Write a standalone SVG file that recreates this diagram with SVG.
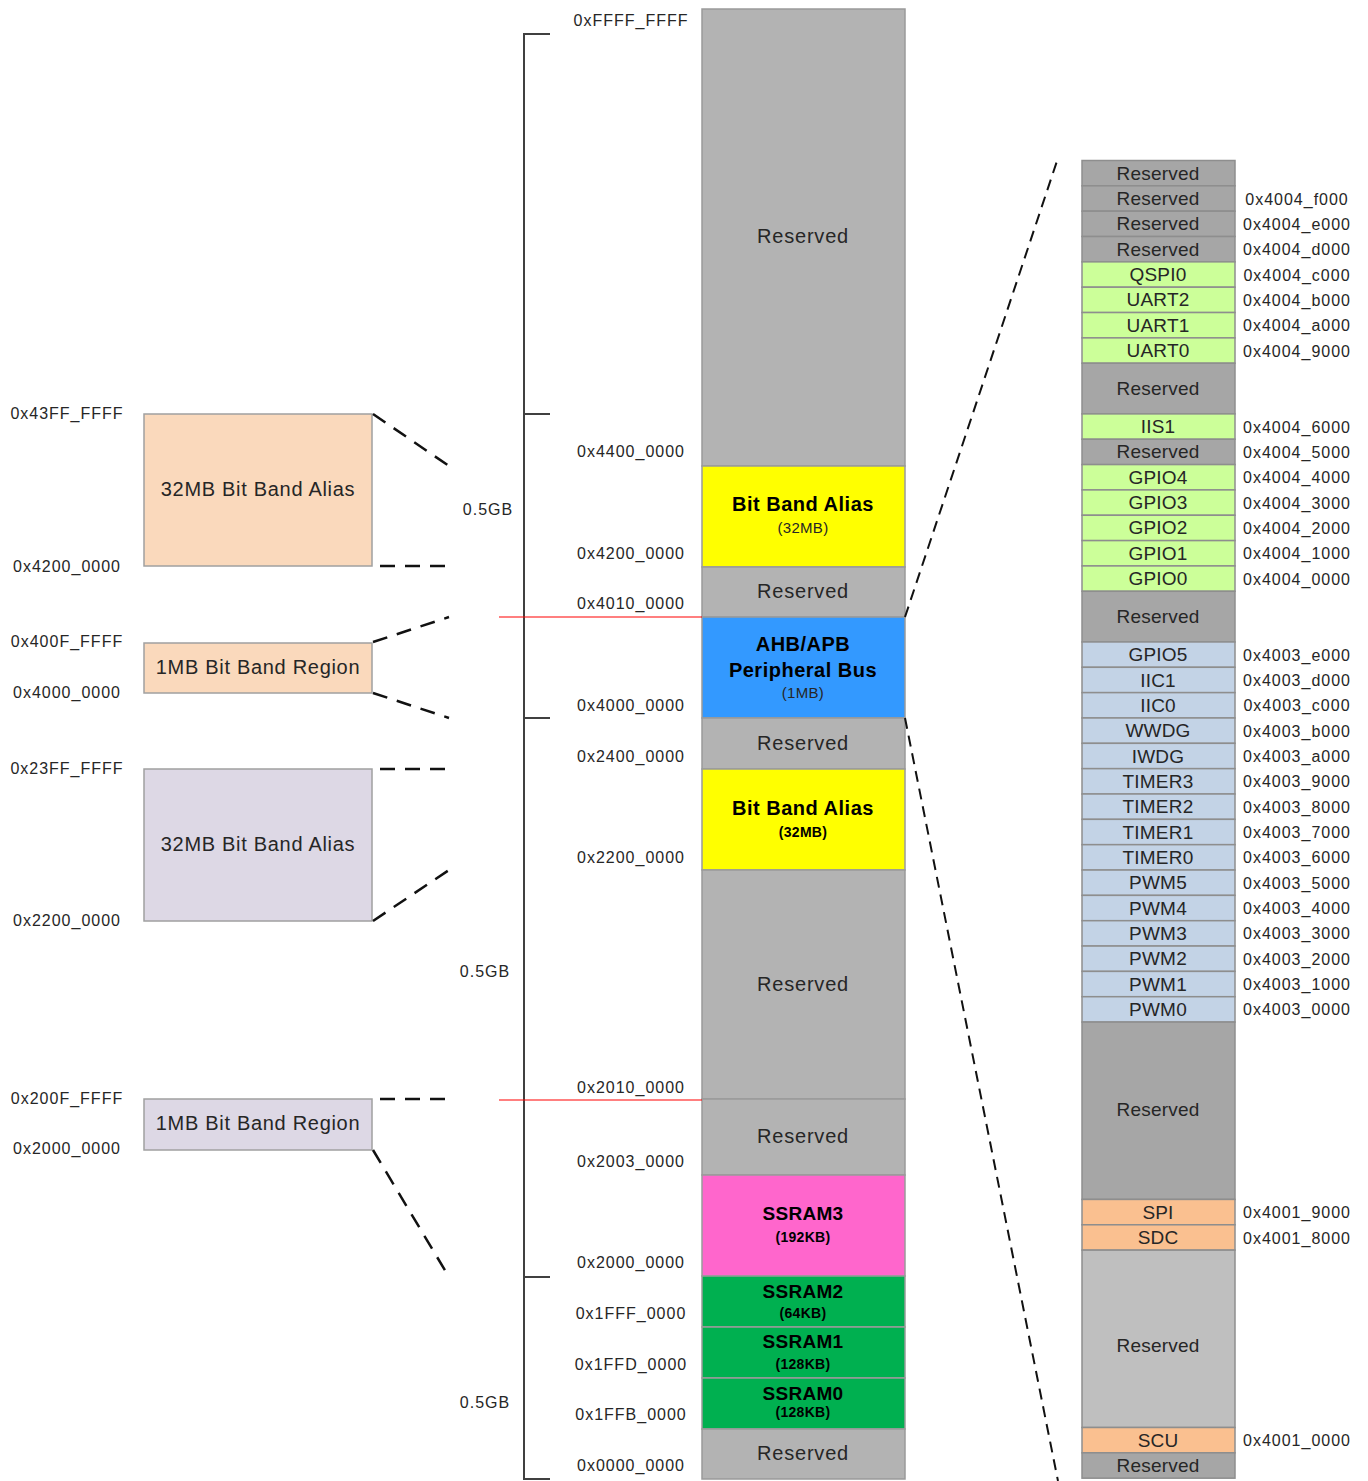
<svg xmlns="http://www.w3.org/2000/svg" width="1368" height="1481" viewBox="0 0 1368 1481">
<style>
text{font-family:"Liberation Sans",Arial,sans-serif;fill:#262626}
.addr{font-size:16px;letter-spacing:1px;text-anchor:middle}
.big{font-size:20px;letter-spacing:0.8px;text-anchor:middle}
.bold{font-size:20px;font-weight:bold;letter-spacing:0.5px;text-anchor:middle;fill:#000}
.sb{font-size:19px;font-weight:bold;letter-spacing:0.3px;text-anchor:middle;fill:#000}
.sm{font-size:15px;text-anchor:middle;letter-spacing:0.3px}
.smb{font-size:14px;font-weight:bold;text-anchor:middle;fill:#000;letter-spacing:0.3px}
.lbl{font-size:20px;letter-spacing:0.7px;text-anchor:middle}
.rt{font-size:19px;letter-spacing:0.2px;text-anchor:middle}
.mc{stroke:#9a9a9a;stroke-width:1.5}
.rc{stroke:#8e8e8e;stroke-width:1.5}
.gray{fill:#b3b3b3}.yel{fill:#ffff00}.blue{fill:#3399ff}.pink{fill:#ff66cc}.green{fill:#00b050}
.dk{fill:#a6a6a6}.lg{fill:#ccff99}.lb{fill:#c3d3e6}.pe{fill:#fac090}.lt{fill:#bfbfbf}
.dash{stroke:#111;stroke-width:2.5;stroke-dasharray:15 10;fill:none}
.dash2{stroke:#111;stroke-width:2;stroke-dasharray:11 7;fill:none}
.brk{stroke:#404040;stroke-width:2;fill:none}
.red{stroke:#ff0000;stroke-width:1.2}
</style>

<!-- bracket and scale -->
<g id="scale">
<path class="brk" d="M550,34 H524 V1479 H550 M524,414 H550 M524,718 H550 M524,1277 H550"/>
<text class="addr" x="488" y="515">0.5GB</text>
<text class="addr" x="485" y="977">0.5GB</text>
<text class="addr" x="485" y="1408">0.5GB</text>
</g>

<!-- middle memory map -->
<g id="m-res-top"><rect class="gray mc" x="702" y="9" width="203" height="457"/><text class="big" x="803" y="243">Reserved</text></g>
<g id="m-bba-hi"><rect class="yel mc" x="702" y="466" width="203" height="101"/><text class="bold" x="803" y="511">Bit Band Alias</text><text class="sm" x="803" y="533">(32MB)</text></g>
<g id="m-res-2"><rect class="gray mc" x="702" y="567" width="203" height="50"/><text class="big" x="803" y="598">Reserved</text></g>
<g id="m-ahb"><rect class="blue mc" x="702" y="617" width="203" height="101"/><text class="bold" x="803" y="651">AHB/APB</text><text class="bold" x="803" y="677">Peripheral Bus</text><text class="sm" x="803" y="698">(1MB)</text></g>
<g id="m-res-3"><rect class="gray mc" x="702" y="718" width="203" height="51"/><text class="big" x="803" y="750">Reserved</text></g>
<g id="m-bba-lo"><rect class="yel mc" x="702" y="769" width="203" height="101"/><text class="bold" x="803" y="815">Bit Band Alias</text><text class="smb" x="803" y="837">(32MB)</text></g>
<g id="m-res-4"><rect class="gray mc" x="702" y="870" width="203" height="229"/><text class="big" x="803" y="991">Reserved</text></g>
<g id="m-res-5"><rect class="gray mc" x="702" y="1099" width="203" height="76"/><text class="big" x="803" y="1143">Reserved</text></g>
<g id="m-ssram3"><rect class="pink mc" x="702" y="1175" width="203" height="101"/><text class="sb" x="803" y="1220">SSRAM3</text><text class="smb" x="803" y="1242">(192KB)</text></g>
<g id="m-ssram2"><rect class="green mc" x="702" y="1276" width="203" height="51"/><text class="sb" x="803" y="1298">SSRAM2</text><text class="smb" x="803" y="1318">(64KB)</text></g>
<g id="m-ssram1"><rect class="green mc" x="702" y="1327" width="203" height="51"/><text class="sb" x="803" y="1348">SSRAM1</text><text class="smb" x="803" y="1369">(128KB)</text></g>
<g id="m-ssram0"><rect class="green mc" x="702" y="1378" width="203" height="51"/><text class="sb" x="803" y="1400">SSRAM0</text><text class="smb" x="803" y="1417">(128KB)</text></g>
<g id="m-res-6"><rect class="gray mc" x="702" y="1429" width="203" height="50"/><text class="big" x="803" y="1460">Reserved</text></g>

<!-- middle addresses -->
<g id="m-addr">
<text class="addr" x="631" y="26">0xFFFF_FFFF</text>
<text class="addr" x="631" y="457">0x4400_0000</text>
<text class="addr" x="631" y="559">0x4200_0000</text>
<text class="addr" x="631" y="609">0x4010_0000</text>
<text class="addr" x="631" y="711">0x4000_0000</text>
<text class="addr" x="631" y="762">0x2400_0000</text>
<text class="addr" x="631" y="863">0x2200_0000</text>
<text class="addr" x="631" y="1093">0x2010_0000</text>
<text class="addr" x="631" y="1167">0x2003_0000</text>
<text class="addr" x="631" y="1268">0x2000_0000</text>
<text class="addr" x="631" y="1319">0x1FFF_0000</text>
<text class="addr" x="631" y="1370">0x1FFD_0000</text>
<text class="addr" x="631" y="1420">0x1FFB_0000</text>
<text class="addr" x="631" y="1471">0x0000_0000</text>
</g>

<!-- left boxes -->
<g id="l-alias-hi"><rect x="144" y="414" width="228" height="152" fill="#fad9bc" stroke="#a0a0a0" stroke-width="1.5"/><text class="lbl" x="258" y="496">32MB Bit Band Alias</text></g>
<g id="l-region-hi"><rect x="144" y="643" width="228" height="50" fill="#fad9bc" stroke="#a0a0a0" stroke-width="1.5"/><text class="lbl" x="258" y="674">1MB Bit Band Region</text></g>
<g id="l-alias-lo"><rect x="144" y="769" width="228" height="152" fill="#ddd8e5" stroke="#a0a0a0" stroke-width="1.5"/><text class="lbl" x="258" y="851">32MB Bit Band Alias</text></g>
<g id="l-region-lo"><rect x="144" y="1099" width="228" height="51" fill="#ddd8e5" stroke="#a0a0a0" stroke-width="1.5"/><text class="lbl" x="258" y="1130">1MB Bit Band Region</text></g>
<g id="l-addr">
<text class="addr" x="67" y="419">0x43FF_FFFF</text>
<text class="addr" x="67" y="572">0x4200_0000</text>
<text class="addr" x="67" y="647">0x400F_FFFF</text>
<text class="addr" x="67" y="698">0x4000_0000</text>
<text class="addr" x="67" y="774">0x23FF_FFFF</text>
<text class="addr" x="67" y="926">0x2200_0000</text>
<text class="addr" x="67" y="1104">0x200F_FFFF</text>
<text class="addr" x="67" y="1154">0x2000_0000</text>
</g>

<!-- connectors -->
<g id="connectors">
<line class="red" x1="499" y1="617" x2="702" y2="617"/>
<line class="red" x1="499" y1="1100" x2="702" y2="1100"/>
<line class="dash" x1="373" y1="414" x2="449" y2="466"/>
<line class="dash" x1="380" y1="566" x2="449" y2="566"/>
<line class="dash" x1="373" y1="642" x2="449" y2="617"/>
<line class="dash" x1="373" y1="693" x2="449" y2="718"/>
<line class="dash" x1="380" y1="769" x2="449" y2="769"/>
<line class="dash" x1="373" y1="921" x2="449" y2="870"/>
<line class="dash" x1="380" y1="1099" x2="449" y2="1099"/>
<line class="dash" x1="373" y1="1150" x2="449" y2="1277"/>
<line class="dash2" x1="905" y1="617" x2="1058" y2="158"/>
<line class="dash2" x1="905" y1="718" x2="1058" y2="1481"/>
</g>

<!-- right peripheral column -->
<g id="r-res-0"><rect class="dk rc" x="1082" y="160.5" width="153" height="25.34"/><text class="rt" x="1158" y="179.7">Reserved</text></g>
<g id="r-res-1"><rect class="dk rc" x="1082" y="185.84" width="153" height="25.34"/><text class="rt" x="1158" y="205">Reserved</text></g>
<g id="r-res-2"><rect class="dk rc" x="1082" y="211.18" width="153" height="25.34"/><text class="rt" x="1158" y="230.3">Reserved</text></g>
<g id="r-res-3"><rect class="dk rc" x="1082" y="236.52" width="153" height="25.34"/><text class="rt" x="1158" y="255.7">Reserved</text></g>
<g id="r-qspi0"><rect class="lg rc" x="1082" y="261.86" width="153" height="25.34"/><text class="rt" x="1158" y="281">QSPI0</text></g>
<g id="r-uart2"><rect class="lg rc" x="1082" y="287.2" width="153" height="25.34"/><text class="rt" x="1158" y="306.4">UART2</text></g>
<g id="r-uart1"><rect class="lg rc" x="1082" y="312.54" width="153" height="25.34"/><text class="rt" x="1158" y="331.7">UART1</text></g>
<g id="r-uart0"><rect class="lg rc" x="1082" y="337.88" width="153" height="25.34"/><text class="rt" x="1158" y="357">UART0</text></g>
<g id="r-res-4"><rect class="dk rc" x="1082" y="363.22" width="153" height="50.68"/><text class="rt" x="1158" y="395">Reserved</text></g>
<g id="r-iis1"><rect class="lg rc" x="1082" y="413.9" width="153" height="25.34"/><text class="rt" x="1158" y="433">IIS1</text></g>
<g id="r-res-5"><rect class="dk rc" x="1082" y="439.24" width="153" height="25.34"/><text class="rt" x="1158" y="458.4">Reserved</text></g>
<g id="r-gpio4"><rect class="lg rc" x="1082" y="464.58" width="153" height="25.34"/><text class="rt" x="1158" y="483.7">GPIO4</text></g>
<g id="r-gpio3"><rect class="lg rc" x="1082" y="489.92" width="153" height="25.34"/><text class="rt" x="1158" y="509.1">GPIO3</text></g>
<g id="r-gpio2"><rect class="lg rc" x="1082" y="515.26" width="153" height="25.34"/><text class="rt" x="1158" y="534.4">GPIO2</text></g>
<g id="r-gpio1"><rect class="lg rc" x="1082" y="540.6" width="153" height="25.34"/><text class="rt" x="1158" y="559.8">GPIO1</text></g>
<g id="r-gpio0"><rect class="lg rc" x="1082" y="565.94" width="153" height="25.34"/><text class="rt" x="1158" y="585.1">GPIO0</text></g>
<g id="r-res-6"><rect class="dk rc" x="1082" y="591.28" width="153" height="50.68"/><text class="rt" x="1158" y="623.1">Reserved</text></g>
<g id="r-gpio5"><rect class="lb rc" x="1082" y="641.96" width="153" height="25.34"/><text class="rt" x="1158" y="661.1">GPIO5</text></g>
<g id="r-iic1"><rect class="lb rc" x="1082" y="667.3" width="153" height="25.34"/><text class="rt" x="1158" y="686.5">IIC1</text></g>
<g id="r-iic0"><rect class="lb rc" x="1082" y="692.64" width="153" height="25.34"/><text class="rt" x="1158" y="711.8">IIC0</text></g>
<g id="r-wwdg"><rect class="lb rc" x="1082" y="717.98" width="153" height="25.34"/><text class="rt" x="1158" y="737.1">WWDG</text></g>
<g id="r-iwdg"><rect class="lb rc" x="1082" y="743.32" width="153" height="25.34"/><text class="rt" x="1158" y="762.5">IWDG</text></g>
<g id="r-timer3"><rect class="lb rc" x="1082" y="768.66" width="153" height="25.34"/><text class="rt" x="1158" y="787.8">TIMER3</text></g>
<g id="r-timer2"><rect class="lb rc" x="1082" y="794" width="153" height="25.34"/><text class="rt" x="1158" y="813.2">TIMER2</text></g>
<g id="r-timer1"><rect class="lb rc" x="1082" y="819.34" width="153" height="25.34"/><text class="rt" x="1158" y="838.5">TIMER1</text></g>
<g id="r-timer0"><rect class="lb rc" x="1082" y="844.68" width="153" height="25.34"/><text class="rt" x="1158" y="863.9">TIMER0</text></g>
<g id="r-pwm5"><rect class="lb rc" x="1082" y="870.02" width="153" height="25.34"/><text class="rt" x="1158" y="889.2">PWM5</text></g>
<g id="r-pwm4"><rect class="lb rc" x="1082" y="895.36" width="153" height="25.34"/><text class="rt" x="1158" y="914.5">PWM4</text></g>
<g id="r-pwm3"><rect class="lb rc" x="1082" y="920.7" width="153" height="25.34"/><text class="rt" x="1158" y="939.9">PWM3</text></g>
<g id="r-pwm2"><rect class="lb rc" x="1082" y="946.04" width="153" height="25.34"/><text class="rt" x="1158" y="965.2">PWM2</text></g>
<g id="r-pwm1"><rect class="lb rc" x="1082" y="971.38" width="153" height="25.34"/><text class="rt" x="1158" y="990.6">PWM1</text></g>
<g id="r-pwm0"><rect class="lb rc" x="1082" y="996.72" width="153" height="25.34"/><text class="rt" x="1158" y="1015.9">PWM0</text></g>
<g id="r-res-7"><rect class="dk rc" x="1082" y="1022.06" width="153" height="177.38"/><text class="rt" x="1158" y="1116">Reserved</text></g>
<g id="r-spi"><rect class="pe rc" x="1082" y="1199.44" width="153" height="25.34"/><text class="rt" x="1158" y="1218.6">SPI</text></g>
<g id="r-sdc"><rect class="pe rc" x="1082" y="1224.78" width="153" height="25.34"/><text class="rt" x="1158" y="1244">SDC</text></g>
<g id="r-res-8"><rect class="lt rc" x="1082" y="1250.12" width="153" height="177.38"/><text class="rt" x="1158" y="1351.5">Reserved</text></g>
<g id="r-scu"><rect class="pe rc" x="1082" y="1427.5" width="153" height="25.34"/><text class="rt" x="1158" y="1446.7">SCU</text></g>
<g id="r-res-9"><rect class="dk rc" x="1082" y="1452.84" width="153" height="25.34"/><text class="rt" x="1158" y="1472">Reserved</text></g>

<g id="r-addr">
<text class="addr" x="1297" y="204.5">0x4004_f000</text>
<text class="addr" x="1297" y="229.9">0x4004_e000</text>
<text class="addr" x="1297" y="255.2">0x4004_d000</text>
<text class="addr" x="1297" y="280.5">0x4004_c000</text>
<text class="addr" x="1297" y="305.9">0x4004_b000</text>
<text class="addr" x="1297" y="331.2">0x4004_a000</text>
<text class="addr" x="1297" y="356.5">0x4004_9000</text>
<text class="addr" x="1297" y="432.6">0x4004_6000</text>
<text class="addr" x="1297" y="457.9">0x4004_5000</text>
<text class="addr" x="1297" y="483.2">0x4004_4000</text>
<text class="addr" x="1297" y="508.6">0x4004_3000</text>
<text class="addr" x="1297" y="533.9">0x4004_2000</text>
<text class="addr" x="1297" y="559.3">0x4004_1000</text>
<text class="addr" x="1297" y="584.6">0x4004_0000</text>
<text class="addr" x="1297" y="660.6">0x4003_e000</text>
<text class="addr" x="1297" y="686">0x4003_d000</text>
<text class="addr" x="1297" y="711.3">0x4003_c000</text>
<text class="addr" x="1297" y="736.6">0x4003_b000</text>
<text class="addr" x="1297" y="762">0x4003_a000</text>
<text class="addr" x="1297" y="787.3">0x4003_9000</text>
<text class="addr" x="1297" y="812.7">0x4003_8000</text>
<text class="addr" x="1297" y="838">0x4003_7000</text>
<text class="addr" x="1297" y="863.4">0x4003_6000</text>
<text class="addr" x="1297" y="888.7">0x4003_5000</text>
<text class="addr" x="1297" y="914">0x4003_4000</text>
<text class="addr" x="1297" y="939.4">0x4003_3000</text>
<text class="addr" x="1297" y="964.7">0x4003_2000</text>
<text class="addr" x="1297" y="990.1">0x4003_1000</text>
<text class="addr" x="1297" y="1015.4">0x4003_0000</text>
<text class="addr" x="1297" y="1218.1">0x4001_9000</text>
<text class="addr" x="1297" y="1243.5">0x4001_8000</text>
<text class="addr" x="1297" y="1446.2">0x4001_0000</text>
</g>
</svg>
